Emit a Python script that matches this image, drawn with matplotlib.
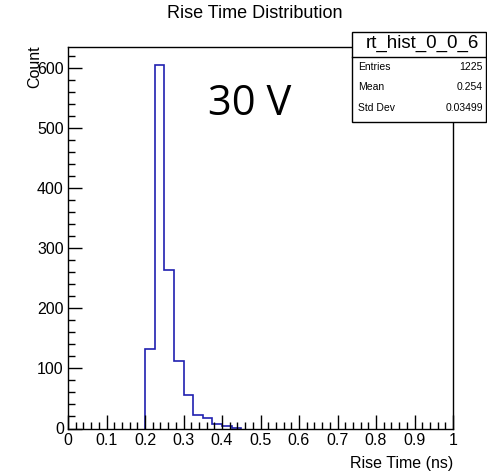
import numpy as np
import matplotlib
matplotlib.use("Agg")
import matplotlib.pyplot as plt
from matplotlib.ticker import MultipleLocator, FuncFormatter
from matplotlib.patches import Rectangle
from matplotlib.lines import Line2D

# Rise-time histogram (bin width 0.025 ns)
bin_edges = [0.200, 0.225, 0.250, 0.275, 0.300, 0.325, 0.350, 0.375, 0.400, 0.425, 0.450]
counts = [132, 605, 263, 112, 55, 23, 18, 8, 4, 1]

hist_name = "rt_hist_0_0_6"
stat_labels = ["Entries", "Mean", "Std Dev"]
stat_values = ["1225", "0.254", "0.03499"]

W, H = 487, 476
fig = plt.figure(figsize=(W / 100, H / 100), dpi=100)
plt.rcParams["font.family"] = ["Liberation Sans", "DejaVu Sans"]

L, R, T, B = 68, 453, 47, 428.5
ax = fig.add_axes([L / W, 1 - B / H, (R - L) / W, (B - T) / H])

ax.stairs(counts, bin_edges, color="#2020b0", linewidth=1.2, baseline=0, fill=False)

ax.set_xlim(0, 1)
ax.set_ylim(0, 635)
ax.xaxis.set_major_locator(MultipleLocator(0.1))
ax.xaxis.set_minor_locator(MultipleLocator(0.02))
ax.yaxis.set_major_locator(MultipleLocator(100))
ax.yaxis.set_minor_locator(MultipleLocator(20))
ax.xaxis.set_major_formatter(FuncFormatter(
    lambda v, p: "0" if abs(v) < 1e-9 else ("1" if abs(v - 1) < 1e-9 else f"{v:.1f}")))

ax.tick_params(which="both", direction="in", top=False, right=False, width=1.0, color="black")
ax.tick_params(which="major", length=10, labelsize=11.5, pad=3)
ax.tick_params(which="minor", length=5)
for s in ax.spines.values():
    s.set_linewidth(1.0)

ax.set_xlabel("Rise Time (ns)", fontsize=11.5, loc="right", labelpad=6)
ax.set_ylabel("Count", fontsize=11.5, loc="top")
ax.yaxis.set_label_coords(-0.068, 1.005)

# title
fig.text(255 / W, 1 - 14 / H, "Rise Time Distribution", ha="center", va="center", fontsize=13)

# voltage annotation
fig.text(208 / W, 1 - 115 / H, "30 V", ha="left", va="baseline", fontsize=30,
         family=["Open Sans", "DejaVu Sans"])

# statistics box
bx0, bx1, by0, by1, ydiv = 352, 486, 32, 122, 56.5
fig.patches.append(Rectangle((bx0 / W, 1 - by1 / H), (bx1 - bx0) / W, (by1 - by0) / H,
                             transform=fig.transFigure, facecolor="white",
                             edgecolor="black", linewidth=1.0, zorder=5))
fig.lines.append(Line2D([bx0 / W, bx1 / W], [1 - ydiv / H, 1 - ydiv / H],
                        transform=fig.transFigure, color="black", linewidth=1.0, zorder=6))
fig.text(422 / W, 1 - 43 / H, hist_name, ha="center", va="center",
         fontsize=13.5, zorder=7)
row_y = [67.5, 87.5, 108]
for lab, val, yy in zip(stat_labels, stat_values, row_y):
    fig.text(358 / W, 1 - yy / H, lab, ha="left", va="center", fontsize=7.5, zorder=7)
    fig.text(483 / W, 1 - yy / H, val, ha="right", va="center", fontsize=7.5, zorder=7)

fig.savefig("out.png", dpi=100)
